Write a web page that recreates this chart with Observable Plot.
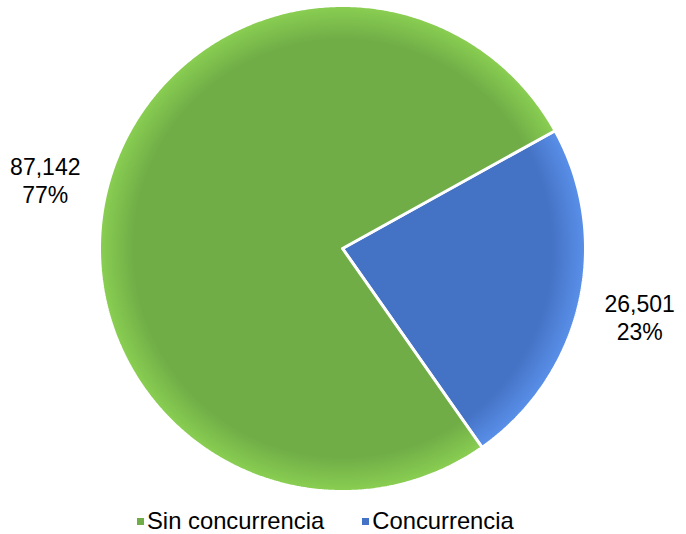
<!DOCTYPE html>
<html><head><meta charset="utf-8">
<script src="https://cdn.jsdelivr.net/npm/d3@7"></script>
<script src="https://cdn.jsdelivr.net/npm/@observablehq/plot@0.6"></script>
<style>
body{margin:0;background:#fff;font-family:"Liberation Sans",Arial,sans-serif;}
#wrap{position:relative;width:686px;height:534px;}
#legend{position:absolute;left:137px;top:508px;height:26px;line-height:26px;font-size:23.8px;color:#000;display:flex;align-items:center;white-space:nowrap;}
.item{display:flex;align-items:center;}
.sw{width:7px;height:7px;margin-right:3px;}
</style>
</head><body><div id="wrap"><div id="chart"></div><div id="legend"></div></div>
<script>
// Data
const categories = ["Concurrencia", "Sin concurrencia"];
const values = [26501, 87142];
const colors = ["#4472C4", "#70AD47"];
const rimColors = ["#5A90EA", "#8ACF52"];
const legendOrder = ["Sin concurrencia", "Concurrencia"];

const W = 686, H = 504, cx = 342, cy = 248, R = 243, labelR = 305;
const startDeg = 61;

const arcs = d3.pie().sort(null).startAngle(startDeg * Math.PI / 180)
  .endAngle((startDeg + 360) * Math.PI / 180)(values);
const total = d3.sum(values);

function pt(a, r) { return [cx + r * Math.sin(a), cy - r * Math.cos(a)]; }

const slices = arcs.map((a, i) => {
  const pts = [pt(0, 0)];
  const n = Math.max(2, Math.ceil((a.endAngle - a.startAngle) / (Math.PI / 360)));
  for (let k = 0; k <= n; k++) pts.push(pt(a.startAngle + (a.endAngle - a.startAngle) * k / n, R));
  pts.push(pt(0, 0));
  return pts.map(([x, y]) => ({x, y, cat: categories[i]}));
});

const labels = arcs.map((a, i) => {
  const m = (a.startAngle + a.endAngle) / 2;
  const [x, y] = pt(m, labelR);
  return {x, y, text: d3.format(",")(values[i]) + "\n" + d3.format(".0%")(values[i] / total)};
});

const svg = Plot.plot({
  width: W, height: H, margin: 0,
  x: {type: "identity", axis: null},
  y: {type: "identity", axis: null},
  marks: [
    ...slices.map((s, i) => Plot.line(s, {x: "x", y: "y", fill: `url(#grad${i})`, stroke: "white", strokeWidth: 3, strokeLinejoin: "miter"})),
    Plot.text(labels, {x: "x", y: "y", text: "text", fontSize: 23, lineHeight: 1.2, fill: "#000", textAnchor: "middle", fontFamily: "Liberation Sans, Arial, sans-serif"})
  ]
});
svg.style.background = "#fff";
const defs = d3.select(svg).insert("defs", ":first-child");
colors.forEach((c, i) => {
  const g = defs.append("radialGradient").attr("id", `grad${i}`)
    .attr("gradientUnits", "userSpaceOnUse").attr("cx", cx).attr("cy", cy).attr("r", R);
  g.append("stop").attr("offset", "0%").attr("stop-color", c);
  g.append("stop").attr("offset", "86%").attr("stop-color", c);
  g.append("stop").attr("offset", "100%").attr("stop-color", rimColors[i]);
});
document.getElementById("chart").appendChild(svg);

const legend = d3.select("#legend");
legendOrder.forEach((name, j) => {
  const i = categories.indexOf(name);
  const it = legend.append("div").attr("class", "item").style("margin-right", j === 0 ? "38px" : "0");
  it.append("div").attr("class", "sw").style("background", colors[i]);
  it.append("span").text(name);
});
</script>
</body></html>
